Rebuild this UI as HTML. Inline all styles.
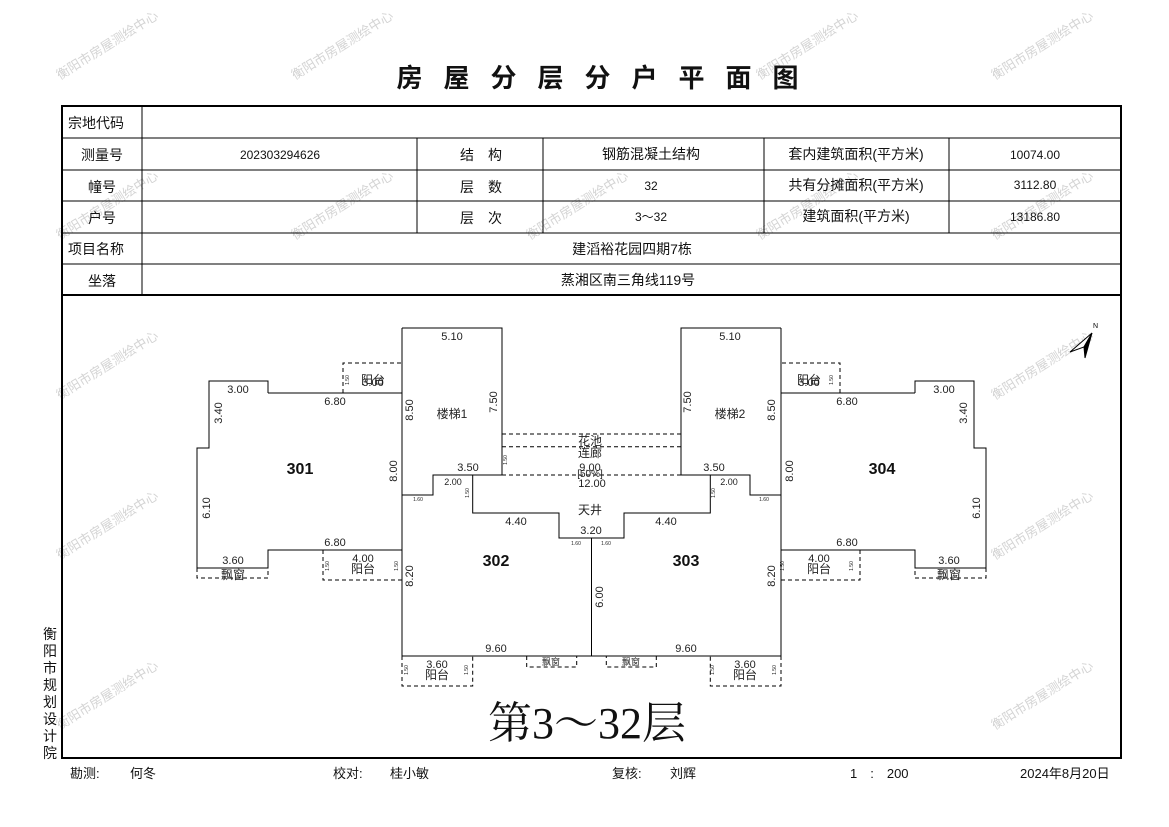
<!DOCTYPE html>
<html><head><meta charset="utf-8"><style>
html,body{margin:0;padding:0;background:#fff;}
svg{display:block;}
text{font-family:"Liberation Sans","Noto Sans CJK SC",sans-serif;}
.d{font-family:"Liberation Mono","Noto Sans CJK SC",monospace;font-size:11px;fill:#222;}
.s{font-family:"Liberation Sans",sans-serif;font-size:5px;fill:#222;}
.t{font-size:14px;fill:#111;}
.wm{font-size:13px;fill:#d4d4d4;}
.u{font-family:"Liberation Serif","Noto Serif CJK SC",serif;font-size:16px;font-weight:bold;fill:#111;}
.c{font-size:12px;fill:#222;font-family:"Liberation Sans","Noto Sans CJK SC",sans-serif;}
</style></head><body>
<svg width="1169" height="827" viewBox="0 0 1169 827" xmlns="http://www.w3.org/2000/svg">
<rect width="1169" height="827" fill="#fff"/>
<g class="wm">
<text transform="translate(60,80) rotate(-32)">衡阳市房屋测绘中心</text>
<text transform="translate(295,80) rotate(-32)">衡阳市房屋测绘中心</text>
<text transform="translate(760,80) rotate(-32)">衡阳市房屋测绘中心</text>
<text transform="translate(995,80) rotate(-32)">衡阳市房屋测绘中心</text>
<text transform="translate(60,240) rotate(-32)">衡阳市房屋测绘中心</text>
<text transform="translate(295,240) rotate(-32)">衡阳市房屋测绘中心</text>
<text transform="translate(530,240) rotate(-32)">衡阳市房屋测绘中心</text>
<text transform="translate(760,240) rotate(-32)">衡阳市房屋测绘中心</text>
<text transform="translate(995,240) rotate(-32)">衡阳市房屋测绘中心</text>
<text transform="translate(60,400) rotate(-32)">衡阳市房屋测绘中心</text>
<text transform="translate(995,400) rotate(-32)">衡阳市房屋测绘中心</text>
<text transform="translate(60,560) rotate(-32)">衡阳市房屋测绘中心</text>
<text transform="translate(995,560) rotate(-32)">衡阳市房屋测绘中心</text>
<text transform="translate(60,730) rotate(-32)">衡阳市房屋测绘中心</text>
<text transform="translate(995,730) rotate(-32)">衡阳市房屋测绘中心</text>
</g>
<text x="608" y="87" text-anchor="middle" style="font-size:26px;font-weight:bold;letter-spacing:21px;fill:#111;font-family:'Liberation Sans','Noto Sans CJK SC',sans-serif">房屋分层分户平面图</text>
<rect x="62" y="106" width="1059" height="652" fill="none" stroke="#000" stroke-width="2"/>
<line x1="62" y1="295" x2="1121" y2="295" stroke="#000" stroke-width="2"/>
<g stroke="#000" stroke-width="1">
<line x1="62" y1="138" x2="1121" y2="138"/>
<line x1="62" y1="170" x2="1121" y2="170"/>
<line x1="62" y1="201" x2="1121" y2="201"/>
<line x1="62" y1="233" x2="1121" y2="233"/>
<line x1="62" y1="264" x2="1121" y2="264"/>
<line x1="142" y1="106" x2="142" y2="295"/>
<line x1="417" y1="138" x2="417" y2="233"/>
<line x1="543" y1="138" x2="543" y2="233"/>
<line x1="764" y1="138" x2="764" y2="233"/>
<line x1="949" y1="138" x2="949" y2="233"/>
</g>
<g class="t">
<text x="68" y="128">宗地代码</text>
<text x="102" y="160" text-anchor="middle">测量号</text>
<text x="102" y="192" text-anchor="middle">幢号</text>
<text x="102" y="223" text-anchor="middle">户号</text>
<text x="68" y="254">项目名称</text>
<text x="102" y="286" text-anchor="middle">坐落</text>
<text x="280" y="159" text-anchor="middle" style="font-size:12px">202303294626</text>
<text x="481" y="160" text-anchor="middle">结　构</text>
<text x="481" y="192" text-anchor="middle">层　数</text>
<text x="481" y="223" text-anchor="middle">层　次</text>
<text x="651" y="159" text-anchor="middle">钢筋混凝土结构</text>
<text x="651" y="190" text-anchor="middle" style="font-size:12px">32</text>
<text x="651" y="221" text-anchor="middle" style="font-size:12px">3〜32</text>
<text x="856" y="159" text-anchor="middle">套内建筑面积(平方米)</text>
<text x="856" y="190" text-anchor="middle">共有分摊面积(平方米)</text>
<text x="856" y="221" text-anchor="middle">建筑面积(平方米)</text>
<text x="1035" y="159" text-anchor="middle" style="font-size:12px">10074.00</text>
<text x="1035" y="189" text-anchor="middle" style="font-size:12px">3112.80</text>
<text x="1035" y="221" text-anchor="middle" style="font-size:12px">13186.80</text>
<text x="632" y="254" text-anchor="middle">建滔裕花园四期7栋</text>
<text x="628" y="285" text-anchor="middle">蒸湘区南三角线119号</text>
</g>
<g class="t" style="font-size:14px">
<text x="50" y="639" text-anchor="middle">衡</text>
<text x="50" y="656" text-anchor="middle">阳</text>
<text x="50" y="673" text-anchor="middle">市</text>
<text x="50" y="690" text-anchor="middle">规</text>
<text x="50" y="707" text-anchor="middle">划</text>
<text x="50" y="724" text-anchor="middle">设</text>
<text x="50" y="741" text-anchor="middle">计</text>
<text x="50" y="758" text-anchor="middle">院</text>
</g>
<g class="t" style="font-size:13px">
<text x="70" y="778">勘测:</text><text x="130" y="778">何冬</text>
<text x="333" y="778">校对:</text><text x="390" y="778">桂小敏</text>
<text x="612" y="778">复核:</text><text x="670" y="778">刘辉</text>
<text x="850" y="778">1　:　200</text>
<text x="1020" y="778">2024年8月20日</text>
</g>
<text x="488" y="738" style="font-family:'Liberation Serif','Noto Serif CJK SC',serif;font-size:44px;fill:#111">第3～32层</text>
<polygon points="1092,333 1070,352 1084,347" fill="#fff" stroke="#000" stroke-width="1"/>
<polygon points="1092,333 1084,347 1085,358" fill="#000" stroke="#000" stroke-width="1"/>
<text x="1093" y="328" style="font-size:7px">N</text>
<g id="L" fill="none" stroke="#000" stroke-width="1">
<path d="M268,393 L268,381 L209,381 L209,448 L197,448 L197,568 L268,568 L268,550 L402,550"/>
<path d="M268,393 L402,393"/>
<path d="M402,328 L502,328 L502,475 L433,475 L433,495 L402,495"/>
<path d="M402,328 L402,656 L591.5,656 L591.5,538 L559,538 L559,513 L472.7,513 L472.7,475 L502,475"/>
<g stroke-dasharray="4,3">
<path d="M343,393 L343,363 L402,363"/>
<path d="M323,550 L323,580 L402,580"/>
<path d="M197,568 L197,578 L268,578 L268,568"/>
<path d="M402,656 L402,686 L472.7,686 L472.7,656"/>
<path d="M526.7,656 L526.7,667 L576.7,667 L576.7,656"/>
<path d="M502,434 L591.5,434 M502,446.7 L591.5,446.7 M502,475 L591.5,475"/>
</g>
</g>
<g transform="translate(1183,0) scale(-1,1)" fill="none" stroke="#000" stroke-width="1">
<path d="M268,393 L268,381 L209,381 L209,448 L197,448 L197,568 L268,568 L268,550 L402,550"/>
<path d="M268,393 L402,393"/>
<path d="M402,328 L502,328 L502,475 L433,475 L433,495 L402,495"/>
<path d="M402,328 L402,656 L591.5,656 L591.5,538 L559,538 L559,513 L472.7,513 L472.7,475 L502,475"/>
<g stroke-dasharray="4,3">
<path d="M343,393 L343,363 L402,363"/>
<path d="M323,550 L323,580 L402,580"/>
<path d="M197,568 L197,578 L268,578 L268,568"/>
<path d="M402,656 L402,686 L472.7,686 L472.7,656"/>
<path d="M526.7,656 L526.7,667 L576.7,667 L576.7,656"/>
<path d="M502,434 L591.5,434 M502,446.7 L591.5,446.7 M502,475 L591.5,475"/>
</g>
</g>
<g class="d" text-anchor="middle">
<text x="452" y="340">5.10</text>
<text x="373" y="386">3.00</text>
<text x="238" y="393">3.00</text>
<text x="335" y="405">6.80</text>
<text x="222" y="413" transform="rotate(-90 222 413)">3.40</text>
<text x="413" y="410" transform="rotate(-90 413 410)">8.50</text>
<text x="497" y="402" transform="rotate(-90 497 402)">7.50</text>
<text x="397" y="471" transform="rotate(-90 397 471)">8.00</text>
<text x="210" y="508" transform="rotate(-90 210 508)">6.10</text>
<text x="468" y="471">3.50</text>
<text x="453" y="485" style="font-size:9px">2.00</text>
<text x="516" y="525">4.40</text>
<text x="591" y="534">3.20</text>
<text x="335" y="546">6.80</text>
<text x="233" y="564">3.60</text>
<text x="363" y="562">4.00</text>
<text x="413" y="576" transform="rotate(-90 413 576)">8.20</text>
<text x="603" y="597" transform="rotate(-90 603 597)">6.00</text>
<text x="496" y="652">9.60</text>
<text x="437" y="668">3.60</text>
<text x="590" y="471">9.00</text>
<text x="592" y="487">12.00</text>
<text x="730" y="340">5.10</text>
<text x="809" y="386">3.00</text>
<text x="944" y="393">3.00</text>
<text x="847" y="405">6.80</text>
<text x="967" y="413" transform="rotate(-90 967 413)">3.40</text>
<text x="775" y="410" transform="rotate(-90 775 410)">8.50</text>
<text x="691" y="402" transform="rotate(-90 691 402)">7.50</text>
<text x="793" y="471" transform="rotate(-90 793 471)">8.00</text>
<text x="980" y="508" transform="rotate(-90 980 508)">6.10</text>
<text x="714" y="471">3.50</text>
<text x="729" y="485" style="font-size:9px">2.00</text>
<text x="666" y="525">4.40</text>
<text x="847" y="546">6.80</text>
<text x="949" y="564">3.60</text>
<text x="819" y="562">4.00</text>
<text x="775" y="576" transform="rotate(-90 775 576)">8.20</text>
<text x="686" y="652">9.60</text>
<text x="745" y="668">3.60</text>
</g>
<g class="c" text-anchor="middle">
<text x="452" y="418">楼梯1</text>
<text x="730" y="418">楼梯2</text>
<text x="373" y="384">阳台</text>
<text x="809" y="384">阳台</text>
<text x="590" y="514">天井</text>
<text x="590" y="445">花池</text>
<text x="590" y="457">连廊</text>
<text x="590" y="477" style="font-size:10px">[50%]</text>
<text x="233" y="579">飘窗</text>
<text x="949" y="579">飘窗</text>
<text x="363" y="573">阳台</text>
<text x="819" y="573">阳台</text>
<text x="437" y="679">阳台</text>
<text x="745" y="679">阳台</text>
<text x="551" y="665" style="font-size:9px">飘窗</text>
<text x="631" y="665" style="font-size:9px">飘窗</text>
</g>
<g class="u" text-anchor="middle">
<text x="300" y="474">301</text>
<text x="496" y="566">302</text>
<text x="686" y="566">303</text>
<text x="882" y="474">304</text>
</g>
<g class="s" text-anchor="middle">
<text x="418" y="501">1.60</text>
<text x="576" y="545">1.60</text>
<text x="606" y="545">1.60</text>
<text x="764" y="501">1.60</text>
<text x="349" y="380" transform="rotate(-90 349 380)">1.50</text>
<text x="833" y="380" transform="rotate(-90 833 380)">1.50</text>
<text x="329" y="566" transform="rotate(-90 329 566)">1.50</text>
<text x="398" y="566" transform="rotate(-90 398 566)">1.50</text>
<text x="784" y="566" transform="rotate(-90 784 566)">1.50</text>
<text x="853" y="566" transform="rotate(-90 853 566)">1.50</text>
<text x="408" y="670" transform="rotate(-90 408 670)">1.50</text>
<text x="468" y="670" transform="rotate(-90 468 670)">1.50</text>
<text x="714" y="670" transform="rotate(-90 714 670)">1.50</text>
<text x="776" y="670" transform="rotate(-90 776 670)">1.50</text>
<text x="507" y="460" transform="rotate(-90 507 460)">1.50</text>
<text x="469" y="493" transform="rotate(-90 469 493)">1.50</text>
<text x="715" y="493" transform="rotate(-90 715 493)">1.50</text>
</g>
</svg>
</body></html>
